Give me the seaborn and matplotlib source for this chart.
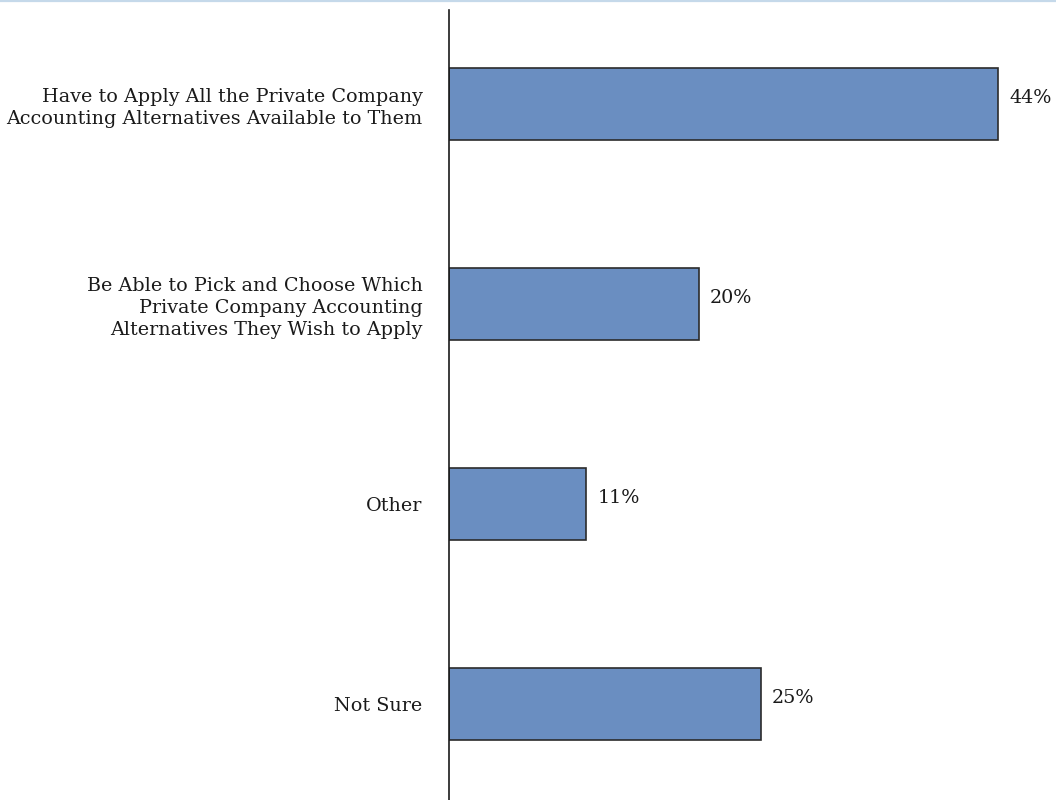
import matplotlib
matplotlib.use("Agg")
import matplotlib.pyplot as plt
import seaborn as sns
import pandas as pd

categories = [
    "Have to Apply All the Private Company\nAccounting Alternatives Available to Them",
    "Be Able to Pick and Choose Which\nPrivate Company Accounting\nAlternatives They Wish to Apply",
    "Other",
    "Not Sure",
]
values = [44, 20, 11, 25]
value_labels = ["44%", "20%", "11%", "25%"]

sns.set_style("white")
plt.rcParams["font.family"] = ["DejaVu Serif", "Liberation Serif"]

df = pd.DataFrame({"category": categories, "value": values})

fig = plt.figure(figsize=(10.56, 8), dpi=100)
W, H = 1056, 800
ax = fig.add_axes([449 / W, 0, (W - 449) / W, (800 - 10) / H])

sns.barplot(data=df, x="value", y="category", orient="h", ax=ax,
            color="#6A8EC1", saturation=1, width=0.36,
            edgecolor="#2b2b2b", linewidth=1.2)

ax.set_xlim(0, (W - 449) / 12.48)
ax.set_ylim(3.48, -0.47)
ax.set_xlabel("")
ax.set_ylabel("")
ax.set_xticks([])
ax.tick_params(axis="y", length=0, pad=19, labelsize=13.8, colors="#1a1a1a")
for lbl in ax.get_yticklabels():
    lbl.set_horizontalalignment("right")
    lbl.set_multialignment("right")
    lbl.set_linespacing(1.27)

for s in ["top", "right", "bottom"]:
    ax.spines[s].set_visible(False)
ax.spines["left"].set_color("#1a1a1a")
ax.spines["left"].set_linewidth(1.2)

for i, (v, t) in enumerate(zip(values, value_labels)):
    ax.annotate(t, xy=(v, i), xytext=(8, 4), textcoords="offset points",
                ha="left", va="center", fontsize=13.8, color="#1a1a1a")

# thin light-blue rule along the top edge
fig.add_artist(plt.Line2D([0, 1], [1 - 1 / H, 1 - 1 / H], transform=fig.transFigure,
                          color="#C5D9EA", linewidth=1.6))

fig.savefig("out.png", dpi=100)
